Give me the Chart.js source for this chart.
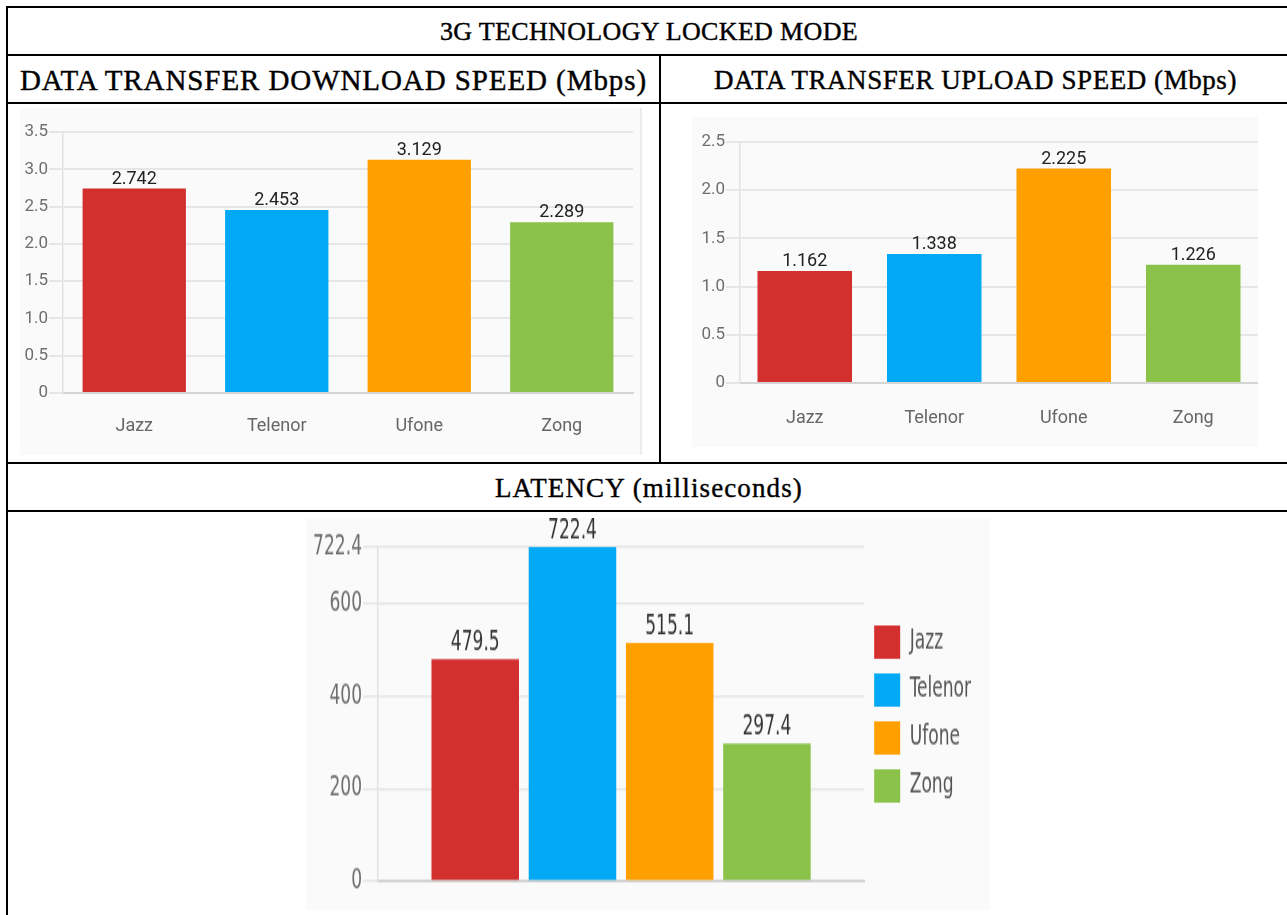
<!DOCTYPE html>
<html>
<head>
<meta charset="utf-8">
<script src="https://cdn.jsdelivr.net/npm/chart.js@4.4.0/dist/chart.umd.min.js"></script>
<style>
  body { margin: 0; background: #fff; width: 1287px; height: 915px; overflow: hidden; position: relative; }
  .ln { position: absolute; background: #000; }
  .hd { position: absolute; text-align: center; font-family: "Liberation Serif", serif; font-size: 27px; color: #000;
        white-space: nowrap; -webkit-text-stroke: 0.4px #000; height: 46px; line-height: 48px; }
  .panel { position: absolute; background: #fafafa; }
</style>
</head>
<body>
<!-- table grid -->
<div class="ln" style="left:6px;top:6px;width:1290px;height:2px"></div>
<div class="ln" style="left:6px;top:6px;width:2px;height:920px"></div>
<div class="ln" style="left:6px;top:54px;width:1290px;height:2px"></div>
<div class="ln" style="left:6px;top:102px;width:1290px;height:2px"></div>
<div class="ln" style="left:6px;top:462px;width:1290px;height:2px"></div>
<div class="ln" style="left:6px;top:510px;width:1290px;height:2px"></div>
<div class="ln" style="left:659px;top:54px;width:2px;height:410px"></div>

<div class="hd" style="left:8px;width:1282px;top:8px;font-size:26px"><span data-w="418">3G TECHNOLOGY LOCKED MODE</span></div>
<div class="hd" style="left:8px;width:651px;top:56px;font-size:29px"><span data-w="627">DATA TRANSFER DOWNLOAD SPEED (Mbps)</span></div>
<div class="hd" style="left:661px;width:629px;top:56px"><span data-w="523">DATA TRANSFER UPLOAD SPEED (Mbps)</span></div>
<div class="hd" style="left:8px;width:1282px;top:464px"><span data-w="308">LATENCY (milliseconds)</span></div>

<div class="panel" style="left:20px;top:108px;width:620px;height:347px;border-right:2px solid #ececec">
  <canvas id="downloadChart"></canvas>
</div>
<div class="panel" style="left:692px;top:117px;width:566px;height:330px">
  <canvas id="uploadChart"></canvas>
</div>
<div class="panel" style="left:306px;top:518px;width:684px;height:392px"></div>
<div style="position:absolute;left:306px;top:518px;width:684px;height:270px;transform:scaleY(1.452);transform-origin:0 0">
  <canvas id="latencyChart"></canvas>
</div>

<script>
const carriers = ['Jazz', 'Telenor', 'Ufone', 'Zong'];
const carrierColors = ['#D32F2F', '#03A9F4', '#FFA000', '#8BC34A'];

const downloadSpeed = [2.742, 2.453, 3.129, 2.289];
const uploadSpeed = [1.162, 1.338, 2.225, 1.226];
const latencyMs = [479.5, 722.4, 515.1, 297.4];

const downloadTicks = [0, 0.5, 1.0, 1.5, 2.0, 2.5, 3.0, 3.5];
const uploadTicks = [0, 0.5, 1.0, 1.5, 2.0, 2.5];
const latencyTicks = [0, 200, 400, 600, 722.4];

const narrowFont = '"Liberation Sans Narrow", "DejaVu Sans Condensed", Roboto, sans-serif';

// stretch the header texts to the widths they have in the table
document.querySelectorAll('.hd span').forEach(s => {
    const w = s.getBoundingClientRect().width;
    s.style.letterSpacing = ((+s.dataset.w - w) / s.textContent.length) + 'px';
});

Chart.defaults.animation = false;
Chart.defaults.font.family = 'Roboto, sans-serif';

// prints the value above each bar
const valueLabels = {
    id: 'valueLabels',
    afterDatasetsDraw(chart, args, opts) {
        const ctx = chart.ctx;
        ctx.save();
        ctx.font = opts.font;
        ctx.fillStyle = opts.color;
        ctx.textAlign = 'center';
        ctx.textBaseline = 'alphabetic';
        chart.data.datasets.forEach((ds, di) => {
            chart.getDatasetMeta(di).data.forEach((bar, i) => {
                ctx.fillText(String(ds.data[i]), bar.x, bar.y - opts.offset);
            });
        });
        ctx.restore();
    }
};

function speedChart(id, values, ticks, max, cfg) {
    const ctx = document.getElementById(id).getContext('2d');
    new Chart(ctx, {
        type: 'bar',
        data: {
            labels: carriers,
            datasets: [{
                data: values,
                backgroundColor: carrierColors,
                categoryPercentage: cfg.barPct,
                barPercentage: 1
            }]
        },
        plugins: [valueLabels],
        options: {
            responsive: true,
            maintainAspectRatio: false,
            layout: { padding: { top: cfg.top, right: cfg.right, left: 0, bottom: 0 } },
            plugins: {
                legend: { display: false },
                tooltip: { enabled: false },
                valueLabels: { font: '18px Roboto', color: '#222', offset: 5 }
            },
            scales: {
                x: {
                    grid: { display: false, drawTicks: false },
                    border: { display: true, color: '#d4d4d4', width: 2 },
                    ticks: { color: '#666', font: { size: 18 }, padding: cfg.xPad },
                    afterFit: s => { s.height = cfg.xHeight; }
                },
                y: {
                    min: 0,
                    max: max,
                    afterBuildTicks: s => { s.ticks = ticks.map(v => ({ value: v })); },
                    grid: { color: '#e6e6e6', lineWidth: 2, tickLength: 14 },
                    border: { display: true, color: '#e2e2e2', width: 1.5 },
                    ticks: {
                        color: '#6e6e6e',
                        font: { size: 17 },
                        padding: 1,
                        callback: v => v === 0 ? '0' : v.toFixed(1)
                    },
                    afterFit: s => { s.width = cfg.yWidth; }
                }
            }
        }
    });
}

speedChart('downloadChart', downloadSpeed, downloadTicks, 3.5,
    { barPct: 0.725, top: 24, right: 7, xPad: 23, xHeight: 62, yWidth: 43 });
speedChart('uploadChart', uploadSpeed, uploadTicks, 2.5,
    { barPct: 0.73, top: 25, right: 0, xPad: 25, xHeight: 64, yWidth: 48 });

// latency: one dataset per carrier so the legend lists them
new Chart(document.getElementById('latencyChart').getContext('2d'), {
    type: 'bar',
    data: {
        labels: [''],
        datasets: carriers.map((c, i) => ({
            label: c,
            data: [latencyMs[i]],
            backgroundColor: carrierColors[i],
            categoryPercentage: 0.8,
            barPercentage: 0.9
        }))
    },
    plugins: [valueLabels],
    options: {
        responsive: true,
        maintainAspectRatio: false,
        layout: { padding: { top: 20, right: 9, left: 0, bottom: 20 } },
        plugins: {
            tooltip: { enabled: false },
            legend: {
                position: 'right',
                labels: {
                    boxWidth: 26,
                    boxHeight: 23,
                    padding: 10,
                    color: '#555',
                    font: { family: narrowFont, size: 19 }
                }
            },
            valueLabels: { font: '19px ' + narrowFont, color: '#333', offset: 6 }
        },
        scales: {
            x: {
                grid: { display: false, drawTicks: false },
                border: { display: true, color: '#d4d4d4', width: 2 },
                ticks: { display: false },
                afterFit: s => { s.height = 0; }
            },
            y: {
                min: 0,
                max: 722.4,
                afterBuildTicks: s => { s.ticks = latencyTicks.map(v => ({ value: v })); },
                grid: { color: '#e6e6e6', lineWidth: 1.5, tickLength: 15 },
                border: { display: true, color: '#e2e2e2', width: 1.5 },
                ticks: {
                    color: '#6e6e6e',
                    font: { family: narrowFont, size: 19 },
                    padding: 1,
                    callback: v => String(v)
                },
                afterFit: s => { s.width = 72; }
            }
        }
    }
});
</script>
</body>
</html>
